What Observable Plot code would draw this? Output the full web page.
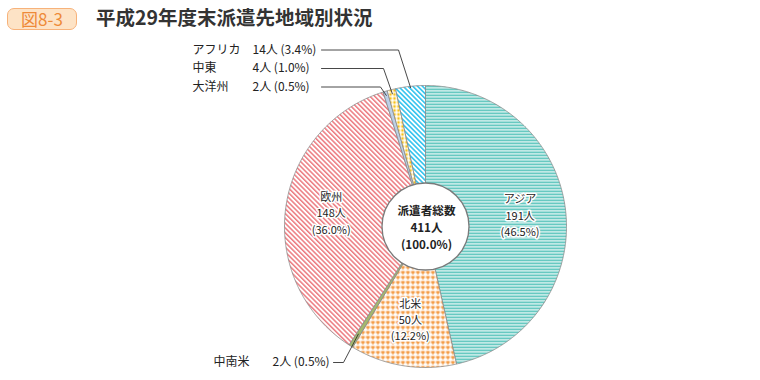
<!DOCTYPE html>
<html><head><meta charset="utf-8">
<script src="https://cdn.jsdelivr.net/npm/d3@7"></script>
<script src="https://cdn.jsdelivr.net/npm/@observablehq/plot@0.6"></script>
<style>
body{margin:0;background:#fff;font-family:"Noto Sans CJK JP","Noto Sans",sans-serif;width:760px;}
#head{position:relative;height:40px;}
.badge{position:absolute;left:7px;top:8px;width:68px;height:20px;border:1.5px solid #f7b27a;border-radius:7px;background:#fde3c6;color:#ee8a38;font-size:17px;line-height:20px;text-align:center;}
.ttl{position:absolute;left:96px;top:4px;font-size:19.5px;line-height:26px;font-weight:700;color:#333;}
#chart svg{display:block;}
</style></head>
<body>
<svg width="0" height="0" style="position:absolute">
<defs>
<pattern id="pAsia" width="6" height="3" patternUnits="userSpaceOnUse"><rect width="6" height="3" fill="#fff"/><rect y="0" width="6" height="1.7" fill="#4cbfb6"/></pattern>
<pattern id="pNA" width="5" height="5" patternUnits="userSpaceOnUse"><rect width="5" height="5" fill="#fff"/><rect x="0.6" y="0.6" width="3.6" height="2.1" fill="#f39030"/><rect x="1.8" y="2.7" width="1.3" height="1.4" fill="#f39030"/></pattern>
<pattern id="pEU" width="3.4" height="3.4" patternUnits="userSpaceOnUse" patternTransform="rotate(-45)"><rect width="3.4" height="3.4" fill="#fff"/><rect width="1.5" height="3.4" fill="#ec7a80"/></pattern>
<pattern id="pAF" width="3.4" height="3.4" patternUnits="userSpaceOnUse" patternTransform="rotate(-45)"><rect width="3.4" height="3.4" fill="#fff"/><rect width="1.6" height="3.4" fill="#33c3ee"/></pattern>
<pattern id="pME" width="4" height="4" patternUnits="userSpaceOnUse"><rect width="4" height="4" fill="#fff"/><circle cx="2" cy="2" r="1.4" fill="#f7c21c"/></pattern>
</defs>
</svg>
<div id="head"><div class="badge">図8-3</div><div class="ttl">平成29年度末派遣先地域別状況</div></div>
<div id="chart"></div>
<script>
// ---- data ----
const regions = ["アジア", "北米", "中南米", "欧州", "大洋州", "中東", "アフリカ"];
const counts  = [191, 50, 2, 148, 2, 4, 14];
const shares  = ["46.5%", "12.2%", "0.5%", "36.0%", "0.5%", "1.0%", "3.4%"];
const totalLabel = "派遣者総数";
const totalCount = 411;
const totalShare = "100.0%";

// ---- styles / layout ----
const fills = ["url(#pAsia)", "url(#pNA)", "#a4b86c", "url(#pEU)", "#bcd0e8", "url(#pME)", "url(#pAF)"];
const W = 760, H = 340;
const cx = 425, cy = 186, R = 141, Rin = 43.5;
const outerLayout = {
  2: {y: 322, nameX: 213, valX: 272, lineX: 333, elbowX: 343, rf: 0.9},
  4: {y: 46.5, nameX: 192, valX: 252, lineX: 321, elbowX: 380, rf: 0.97},
  5: {y: 28, nameX: 192, valX: 252, lineX: 321, elbowX: 383, rf: 0.97},
  6: {y: 9.5, nameX: 192, valX: 252, lineX: 321, elbowX: 398, rf: 0.99}
};

const arcs = d3.pie().sort(null)(counts);
const slicePts = [];
arcs.forEach((a, i) => {
  const n = Math.max(2, Math.ceil((a.endAngle - a.startAngle) / (Math.PI / 360)));
  slicePts.push({k: i, x: cx, y: cy});
  for (let j = 0; j <= n; j++) {
    const t = a.startAngle + (a.endAngle - a.startAngle) * j / n;
    slicePts.push({k: i, x: cx + R * Math.sin(t), y: cy - R * Math.cos(t)});
  }
  slicePts.push({k: i, x: cx, y: cy});
});

const innerLines = [], outerNames = [], outerVals = [], leaders = [];
arcs.forEach((a, i) => {
  const m = (a.startAngle + a.endAngle) / 2;
  if (outerLayout[i]) {
    const L = outerLayout[i];
    outerNames.push({x: L.nameX, y: L.y, t: regions[i]});
    outerVals.push({x: L.valX, y: L.y, t: `${counts[i]}人 (${shares[i]})`});
    leaders.push({k: i, x: L.lineX, y: L.y});
    leaders.push({k: i, x: L.elbowX, y: L.y});
    leaders.push({k: i, x: cx + R * L.rf * Math.sin(m), y: cy - R * L.rf * Math.cos(m)});
  } else {
    const rr = R * 0.675;
    const lx = cx + rr * Math.sin(m), ly = cy - rr * Math.cos(m);
    [regions[i], `${counts[i]}人`, `(${shares[i]})`].forEach((t, j) =>
      innerLines.push({x: lx, y: ly + (j - 1) * 16.2, t}));
  }
});
const centerLines = [totalLabel, `${totalCount}人`, `(${totalShare})`]
  .map((t, j) => ({x: cx + 1, y: cy + 2 + (j - 1) * 17, t}));

const chart = Plot.plot({
  width: W, height: H, margin: 0,
  style: {fontFamily: '"Noto Sans CJK JP", sans-serif', background: "#fff"},
  x: {domain: [0, W], range: [0, W], axis: null},
  y: {domain: [0, H], range: [0, H], axis: null},
  color: {type: "identity"},
  marks: [
    Plot.line(slicePts, {x: "x", y: "y", z: "k", fill: d => fills[d.k], stroke: "#8a8a8a", strokeWidth: 0.8, strokeLinejoin: "round", curve: "linear"}),
    Plot.line(leaders, {x: "x", y: "y", z: "k", stroke: "#333", strokeWidth: 0.9}),
    Plot.dot([{x: cx, y: cy}], {x: "x", y: "y", r: Rin, fill: "#fff", stroke: "#7a7a7a", strokeWidth: 1.3}),
    Plot.text(innerLines, {x: "x", y: "y", text: "t", fontSize: 11, fill: "#222", stroke: "#fff", strokeWidth: 3, paintOrder: "stroke"}),
    Plot.text(centerLines, {x: "x", y: "y", text: "t", fontSize: 11.6, fontWeight: "bold", fill: "#222"}),
    Plot.text(outerNames, {x: "x", y: "y", text: "t", fontSize: 12, textAnchor: "start", fill: "#222"}),
    Plot.text(outerVals, {x: "x", y: "y", text: "t", fontSize: 12, textAnchor: "start", fill: "#222"})
  ]
});
document.getElementById("chart").appendChild(chart);
</script>
</body></html>
